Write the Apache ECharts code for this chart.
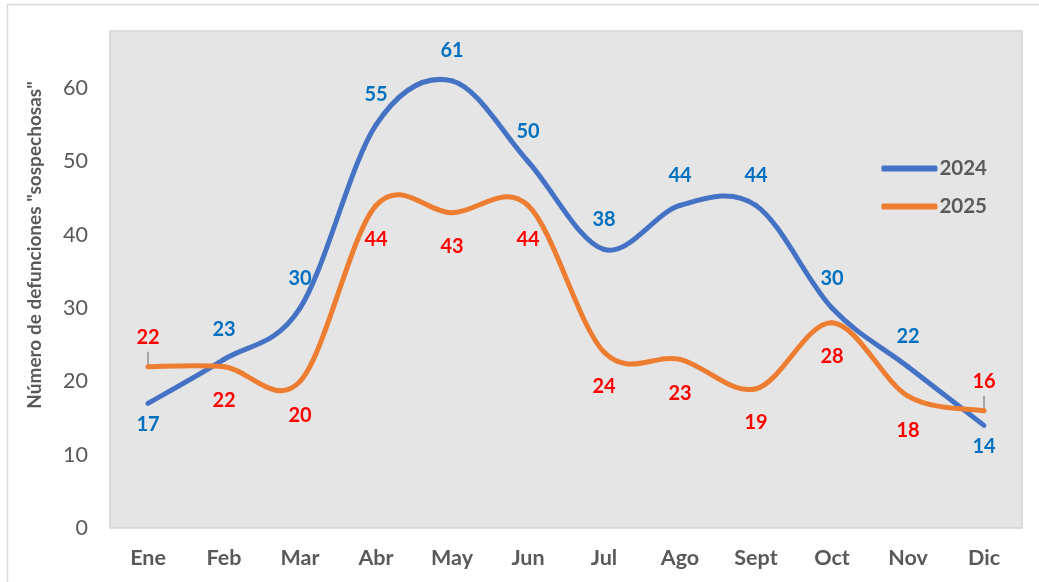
<!DOCTYPE html>
<html>
<head>
<meta charset="utf-8">
<script src="https://cdn.jsdelivr.net/npm/echarts@6/dist/echarts.min.js"></script>
<style>
  html, body { margin: 0; padding: 0; background: #ffffff; }
  #chart { width: 1039px; height: 582px; }
</style>
</head>
<body>
<div id="chart"></div>
<script>
// Monthly suspected deaths, 2024 vs 2025
const months = ['Ene', 'Feb', 'Mar', 'Abr', 'May', 'Jun', 'Jul', 'Ago', 'Sept', 'Oct', 'Nov', 'Dic'];
const values2024 = [17, 23, 30, 55, 61, 50, 38, 44, 44, 30, 22, 14];
const values2025 = [22, 22, 20, 44, 43, 44, 24, 23, 19, 28, 18, 16];
const yTicks = [0, 10, 20, 30, 40, 50, 60];

// label placement per point (top / bottom)
const labelPos2024 = ['bottom', 'top', 'top', 'top', 'top', 'top', 'top', 'top', 'top', 'top', 'top', 'bottom'];
const labelPos2025 = ['top', 'bottom', 'bottom', 'bottom', 'bottom', 'bottom', 'bottom', 'bottom', 'bottom', 'bottom', 'bottom', 'top'];
// points of the 2025 series that carry a short leader line under their label
const leader2025 = ['Ene', 'Dic'];

const FONT = 'Lato, "Open Sans", "Liberation Sans", sans-serif';
const GREY = '#595959';
const BLUE = '#4472C4';
const ORANGE = '#ED7D31';

function labelledPoints(values, positions, distTop, distBottom) {
  return values.map((v, i) => ({
    value: v,
    label: {
      position: positions[i],
      distance: positions[i] === 'top' ? distTop : distBottom
    }
  }));
}

// Smooth curve through the points (cardinal spline, one bezier per segment),
// positioned through the chart's own axes via api.coord
function curveRenderer(values, color) {
  const n = values.length;
  return function (params, api) {
    const i = params.dataIndex;
    if (i >= n - 1) return null;
    const pt = k => {
      const j = Math.max(0, Math.min(n - 1, k));
      return api.coord([j, values[j]]);
    };
    const p0 = pt(i - 1), p1 = pt(i), p2 = pt(i + 1), p3 = pt(i + 2);
    const t = 1 / 6;
    return {
      type: 'bezierCurve',
      shape: {
        x1: p1[0], y1: p1[1],
        x2: p2[0], y2: p2[1],
        cpx1: p1[0] + (p2[0] - p0[0]) * t,
        cpy1: p1[1] + (p2[1] - p0[1]) * t,
        cpx2: p2[0] - (p3[0] - p1[0]) * t,
        cpy2: p2[1] - (p3[1] - p1[1]) * t
      },
      style: { fill: null, stroke: color, lineWidth: 5, lineCap: 'round', lineJoin: 'round' }
    };
  };
}

const labelStyle = { show: true, fontFamily: FONT, fontSize: 20, fontWeight: 'bold' };

const chart = echarts.init(document.getElementById('chart'), null, { renderer: 'canvas' });

const option = {
  backgroundColor: '#ffffff',
  animation: false,
  grid: {
    left: 110, right: 17, top: 31, bottom: 54,
    show: true,
    backgroundColor: '#e5e5e5',
    borderColor: '#d4d4d4',
    borderWidth: 1.5
  },
  legend: {
    orient: 'vertical',
    right: 47,
    top: 153,
    itemWidth: 56,
    itemHeight: 6,
    itemGap: 17,
    icon: 'roundRect',
    textStyle: { fontFamily: FONT, fontSize: 20.5, fontWeight: 'bold', color: GREY, padding: [0, 0, 0, -3] },
    data: ['2024', '2025']
  },
  xAxis: {
    type: 'category',
    data: months,
    boundaryGap: true,
    axisLine: { show: false },
    axisTick: { show: false },
    splitLine: { show: false },
    axisLabel: { fontFamily: FONT, fontSize: 21.5, fontWeight: 'bold', color: GREY, margin: 19 }
  },
  yAxis: {
    type: 'value',
    min: 0,
    max: 67.8,
    interval: 10,
    axisLine: { show: false },
    axisTick: { show: false },
    splitLine: { show: false },
    axisLabel: {
      fontFamily: FONT, fontSize: 21.5, color: GREY, margin: 22,
      showMaxLabel: false,
      formatter: v => (yTicks.indexOf(v) >= 0 ? String(v) : '')
    }
  },
  series: [
    {
      // labels and legend entry for 2024
      name: '2024',
      type: 'line',
      z: 5,
      symbol: 'circle',
      symbolSize: 0,
      showSymbol: true,
      color: BLUE,
      lineStyle: { width: 0, opacity: 0 },
      label: Object.assign({ color: '#0070C0' }, labelStyle),
      data: labelledPoints(values2024, labelPos2024, 20, 11)
    },
    {
      name: '2025',
      type: 'line',
      z: 5,
      symbol: 'circle',
      symbolSize: 0,
      showSymbol: true,
      color: ORANGE,
      lineStyle: { width: 0, opacity: 0 },
      label: Object.assign({ color: '#FF0000' }, labelStyle),
      data: labelledPoints(values2025, labelPos2025, 19, 24)
    },
    {
      name: '2024',
      type: 'custom',
      z: 2,
      silent: true,
      renderItem: curveRenderer(values2024, BLUE),
      data: values2024.map((v, i) => [i, v])
    },
    {
      name: '2025',
      type: 'custom',
      z: 3,
      silent: true,
      renderItem: curveRenderer(values2025, ORANGE),
      data: values2025.map((v, i) => [i, v])
    }
  ]
};

chart.setOption(option);

// y-axis title, outer frame and leader lines
const graphics = [
  {
    type: 'rect',
    silent: true,
    shape: { x: 7.5, y: 4.5, width: 1100, height: 700 },
    style: { fill: null, stroke: '#d9d9d9', lineWidth: 1.5 }
  },
  {
    type: 'text',
    silent: true,
    x: 35,
    y: 245,
    rotation: Math.PI / 2,
    style: {
      text: 'Número de defunciones "sospechosas"',
      fontFamily: FONT,
      fontSize: 19,
      fontWeight: 'bold',
      fill: GREY,
      align: 'center',
      verticalAlign: 'middle'
    }
  }
];
leader2025.forEach(m => {
  const idx = months.indexOf(m);
  const p = chart.convertToPixel({ xAxisIndex: 0, yAxisIndex: 0 }, [m, values2025[idx]]);
  graphics.push({
    type: 'line',
    silent: true,
    z: 1,
    shape: { x1: p[0], y1: p[1], x2: p[0], y2: p[1] - 15 },
    style: { stroke: '#a6a6a6', lineWidth: 2 }
  });
});
chart.setOption({ graphic: graphics });
</script>
</body>
</html>
